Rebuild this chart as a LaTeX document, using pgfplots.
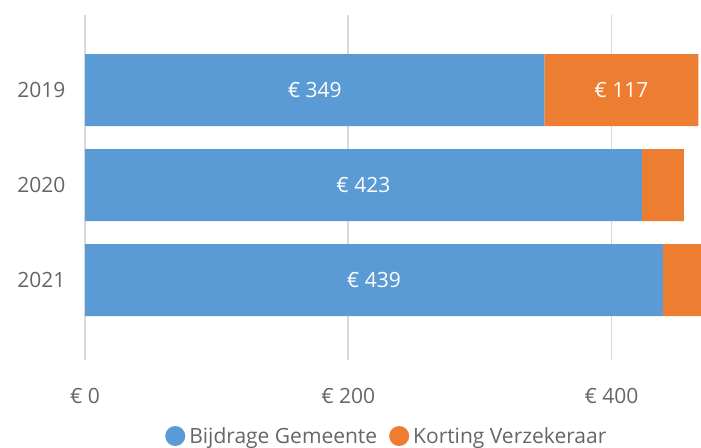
\documentclass[border=0pt]{standalone}
\usepackage{fontspec}
\setmainfont{Open Sans}
\usepackage{pgfplots}
\usepackage{pgfplotstable}
\pgfplotsset{compat=1.18}
\definecolor{cblue}{HTML}{5B9BD5}
\definecolor{corange}{HTML}{ED7D31}
\definecolor{tgray}{HTML}{666666}
\definecolor{ggray}{HTML}{D9D9D9}
\pgfplotstableread{
y b o lb lo
0 349 117 {€~349} {€~117}
1 423 32 {€~423} {}
2 439 30 {€~439} {}
}\datatable
\newcommand{\cf}{\fontsize{21bp}{25bp}\selectfont}
\begin{document}
\begin{tikzpicture}
\useasboundingbox (-85bp,-88bp) rectangle (616bp,360bp);
\begin{axis}[
  at={(0,0)}, anchor=south west,
  scale only axis,
  width=616bp, height=345bp,
  xbar stacked,
  bar width=72bp,
  xmin=0, xmax=468,
  ymin=-0.79, ymax=2.84,
  y dir=reverse,
  axis line style={draw=none},
  tick style={draw=none},
  xtick={0,200,400},
  ytick={0,1,2},
  yticklabels={2019,2020,2021},
  xmajorgrids,
  grid style={ggray, line width=1.5bp},
  major tick length=0pt,
  /pgf/number format/assume math mode=true,
  xticklabel={€~\pgfmathprintnumber{\tick}},
  xticklabel style={font=\cf, text=tgray, yshift=-25bp},
  yticklabel style={font=\cf, text=tgray, xshift=-16bp},
  legend columns=2,
  legend style={at={(0.49,-0.2203)}, anchor=center, draw=none, fill=none,
    font=\cf, text=tgray,
    /tikz/every odd column/.append style={column sep=2bp},
    /tikz/every even column/.append style={column sep=10bp}},
  legend image code/.code={\fill[#1] (10bp,0bp) circle (10bp);},
  clip=true,
]
\addplot[fill=cblue, draw=none,
  nodes near coords, point meta=explicit symbolic,
  nodes near coords style={anchor=center, text=white, font=\cf}]
  table[x=b, y=y, meta=lb] \datatable;
\addlegendentry{Bijdrage Gemeente}
\addplot[fill=corange, draw=none,
  nodes near coords, point meta=explicit symbolic,
  nodes near coords style={anchor=center, text=white, font=\cf}]
  table[x=o, y=y, meta=lo] \datatable;
\addlegendentry{Korting Verzekeraar}
\end{axis}
\end{tikzpicture}
\end{document}
